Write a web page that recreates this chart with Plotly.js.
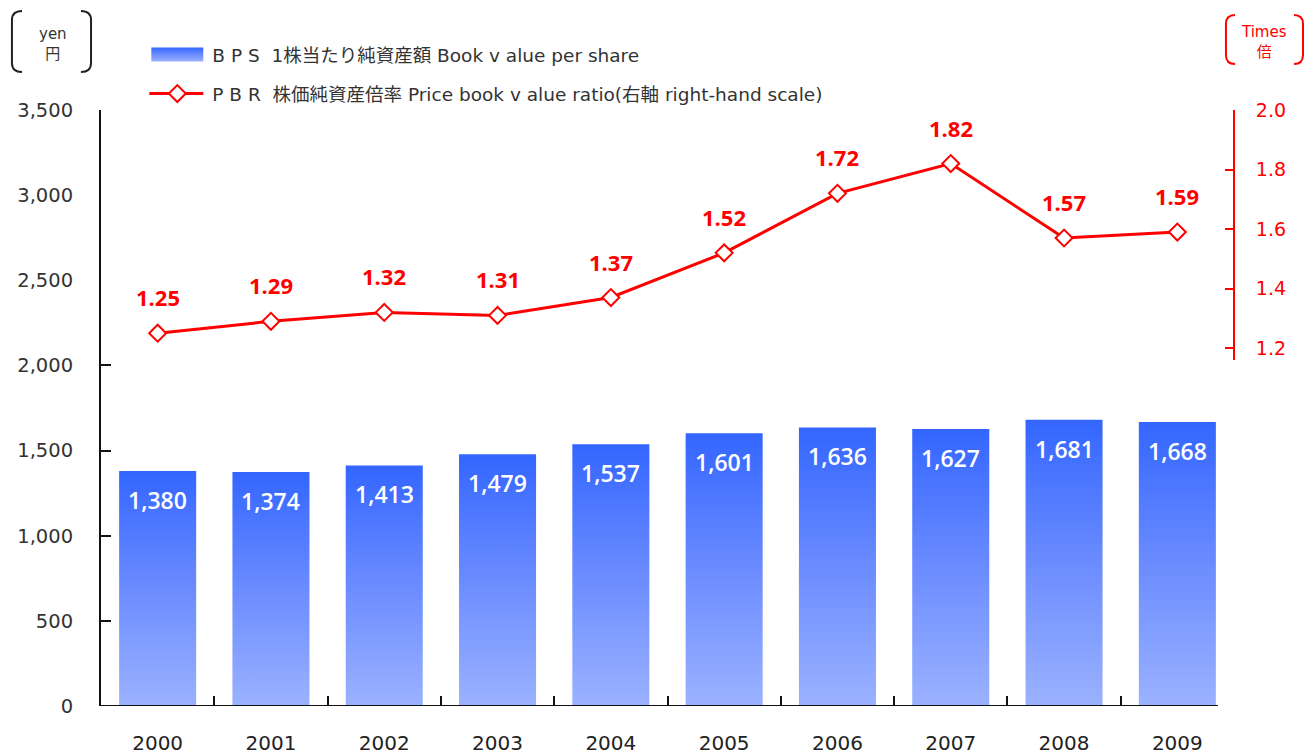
<!DOCTYPE html>
<html>
<head>
<meta charset="utf-8">
<script src="https://cdn.plot.ly/plotly-3.0.1.min.js"></script>
<style>
  body { margin: 0; background: #fff; }
  #chart { width: 1316px; height: 756px; }
</style>
</head>
<body>
<div id="chart"></div>
<script>
const years = ["2000", "2001", "2002", "2003", "2004", "2005", "2006", "2007", "2008", "2009"];
const bps = [1380, 1374, 1413, 1479, 1537, 1601, 1636, 1627, 1681, 1668];
const pbr = [1.25, 1.29, 1.32, 1.31, 1.37, 1.52, 1.72, 1.82, 1.57, 1.59];

const bpsName = "B P S  1株当たり純資産額 Book v alue per share";
const pbrName = "P B R  株価純資産倍率 Price book v alue ratio(右軸 right-hand scale)";

const FONT = "'DejaVu Sans', 'Noto Sans CJK JP', sans-serif";
const LBL = "'Open Sans', 'Noto Sans', sans-serif";
const RED = "#ff0000";

const traces = [
  {
    type: "bar",
    name: bpsName,
    legendgroup: "a",
    x: years,
    y: bps,
    marker: { color: "#5b7fff" },
    hoverinfo: "skip"
  },
  {
    type: "scatter",
    mode: "lines+markers",
    name: pbrName,
    legendgroup: "b",
    x: years,
    y: pbr,
    yaxis: "y2",
    line: { color: RED, width: 3 },
    marker: { symbol: "diamond", size: 13, color: "#fff", line: { color: RED, width: 2 } },
    cliponaxis: false,
    hoverinfo: "skip"
  }
];

// value labels (x given as category index so the axis range is not disturbed)
const barLabels = years.map((yr, i) => ({
  x: i, y: bps[i], xref: "x", yref: "y",
  text: bps[i].toLocaleString("en-US"),
  showarrow: false, yshift: -29,
  font: { family: LBL, size: 23, color: "#fff", weight: 600 }
}));
const lineLabels = years.map((yr, i) => ({
  x: i, y: pbr[i], xref: "x", yref: "y2",
  text: "<b>" + pbr[i].toFixed(2) + "</b>",
  showarrow: false, yshift: 36,
  font: { family: LBL, size: 22, color: RED }
}));

// pixel -> paper helpers for the decorations
function px(x) { return (x - 101) / 1133; }
function py(y) { return (706 - y) / 596; }

const unitLabels = [
  { xref: "paper", yref: "paper", x: px(53), y: py(44), xanchor: "center", yanchor: "middle",
    text: "yen<br>円", showarrow: false, align: "center",
    font: { family: FONT, size: 15, color: "#333" } },
  { xref: "paper", yref: "paper", x: px(1264), y: py(42), xanchor: "center", yanchor: "middle",
    text: "Times<br>倍", showarrow: false, align: "center",
    font: { family: FONT, size: 15, color: RED } }
];

function bracket(x0, xin, top, bot, color) {
  const f = v => v.toFixed(4);
  return {
    type: "path", xref: "paper", yref: "paper",
    path: `M${f(px(xin))},${f(py(top))} Q${f(px(x0))},${f(py(top))} ${f(px(x0))},${f(py(top + 9))} ` +
          `L${f(px(x0))},${f(py(bot - 9))} Q${f(px(x0))},${f(py(bot))} ${f(px(xin))},${f(py(bot))}`,
    line: { color: color, width: 2 }
  };
}
const shapes = [
  bracket(12, 22, 11, 72, "#222"),
  bracket(91, 81, 11, 72, "#222"),
  bracket(1226, 1235, 15, 64, RED),
  bracket(1303, 1294, 15, 64, RED),
  // category axis line stops short of the right-hand axis, as in the original
  { type: "line", xref: "paper", yref: "y", x0: 0, x1: px(1218), y0: 0, y1: 0,
    line: { color: "#111", width: 2 } }
];

const layout = {
  width: 1316,
  height: 756,
  margin: { l: 101, r: 82, t: 110, b: 50 },
  paper_bgcolor: "#fff",
  plot_bgcolor: "#fff",
  font: { family: FONT, size: 17, color: "#333" },
  bargap: 0.32,
  showlegend: true,
  legend: {
    x: 0.04, xanchor: "left",
    y: 1 + (110 - 36) / 596, yanchor: "top",
    font: { family: FONT, size: 18.5, color: "#333" },
    bgcolor: "rgba(0,0,0,0)",
    traceorder: "grouped",
    tracegroupgap: 12,
    itemwidth: 56
  },
  xaxis: {
    domain: [0, 1],
    type: "category",
    range: [-0.5, 9.5],
    showline: false,
    ticks: "inside", tickson: "boundaries", ticklen: 10, tickwidth: 2, tickcolor: "#111",
    ticklabelstandoff: 23,
    tickfont: { family: FONT, size: 20, color: "#222" },
    showgrid: false, zeroline: false, fixedrange: true
  },
  yaxis: {
    range: [0, 3500],
    dtick: 500,
    tickformat: ",d",
    showline: true, linecolor: "#111", linewidth: 2,
    ticks: "inside", ticklen: 10, tickwidth: 2, tickcolor: "#111",
    ticklabelstandoff: 22,
    tickfont: { family: FONT, size: 19.5, color: "#333" },
    showgrid: false, zeroline: false, fixedrange: true
  },
  yaxis2: {
    domain: [0.5805, 1],
    range: [1.16, 2.0],
    tickvals: [1.2, 1.4, 1.6, 1.8, 2.0],
    tickformat: ".1f",
    anchor: "free", position: 1, side: "right",
    showline: true, linecolor: RED, linewidth: 2,
    ticks: "inside", ticklen: 8, tickwidth: 2, tickcolor: RED,
    ticklabelstandoff: 17,
    tickfont: { family: FONT, size: 19, color: RED },
    showgrid: false, zeroline: false, fixedrange: true
  },
  annotations: barLabels.concat(lineLabels, unitLabels),
  shapes: shapes
};

Plotly.newPlot("chart", traces, layout, { staticPlot: true }).then(gd => {
  // vertical gradient for the bars, like the original
  const svgNS = "http://www.w3.org/2000/svg";
  const defs = gd.querySelector("svg.main-svg defs");
  const grad = document.createElementNS(svgNS, "linearGradient");
  grad.setAttribute("id", "bpsGrad");
  grad.setAttribute("x1", "0"); grad.setAttribute("y1", "0");
  grad.setAttribute("x2", "0"); grad.setAttribute("y2", "1");
  [["0%", "#3366ff"], ["45%", "#6688ff"], ["100%", "#9bb2ff"]].forEach(([off, col]) => {
    const s = document.createElementNS(svgNS, "stop");
    s.setAttribute("offset", off);
    s.setAttribute("stop-color", col);
    grad.appendChild(s);
  });
  defs.appendChild(grad);
  gd.querySelectorAll(".barlayer .point path").forEach(p => { p.style.fill = "url(#bpsGrad)"; });

  // legend symbols: wide swatch / long line ending just before the text
  function toLocal(el, sx) {
    const m = el.getScreenCTM();
    return (sx - m.e) / m.a;
  }
  gd.querySelectorAll(".legend .traces").forEach((t, i) => {
    const txt = t.querySelector("text.legendtext");
    const tLeft = txt.getBoundingClientRect().left;
    const sx0 = tLeft - 61, sx1 = tLeft - 9;
    if (i === 0) {
      t.querySelectorAll(".legendpoints path").forEach(p => {
        const a = toLocal(p.parentNode, sx0), b = toLocal(p.parentNode, sx1);
        p.setAttribute("d", `M${b},7H${a}V-7H${b}Z`);
        p.setAttribute("transform", "");
        p.style.fill = "url(#bpsGrad)";
      });
    } else {
      t.querySelectorAll(".legendlines path").forEach(p => {
        const a = toLocal(p.parentNode, sx0 - 2), b = toLocal(p.parentNode, sx1);
        p.setAttribute("d", `M${a},0H${b}`);
      });
      t.querySelectorAll(".legendpoints path").forEach(p => {
        const c = toLocal(p.parentNode, (sx0 + sx1) / 2);
        p.setAttribute("transform", `translate(${c},0)`);
      });
    }
  });
});
</script>
</body>
</html>
